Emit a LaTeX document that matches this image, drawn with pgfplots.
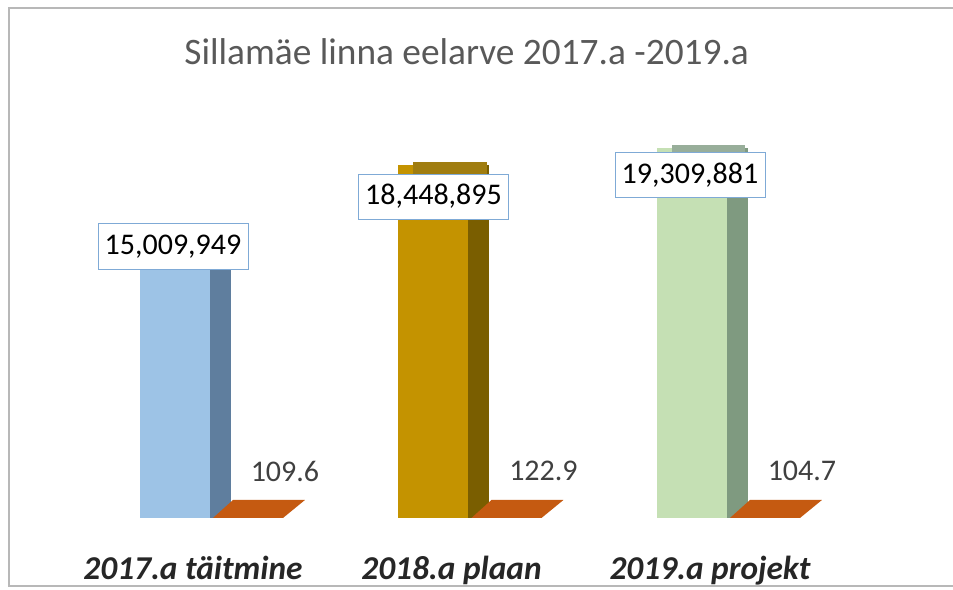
\documentclass[border=0pt]{standalone}
\usepackage{pgfplots}
\pgfplotsset{compat=1.18}
\usepackage{fontspec}
\setmainfont{Carlito}

\definecolor{bluefront}{HTML}{9DC3E6}
\definecolor{blueside}{HTML}{5F7E9E}
\definecolor{goldfront}{HTML}{C49300}
\definecolor{goldside}{HTML}{7A5E00}
\definecolor{goldcap}{HTML}{A07D10}
\definecolor{greenfront}{HTML}{C5E0B4}
\definecolor{greenside}{HTML}{7F9A80}
\definecolor{greencap}{HTML}{98AE9A}
\definecolor{orangebar}{HTML}{C55A11}
\definecolor{boxline}{HTML}{7FAAD6}
\definecolor{titlegray}{HTML}{595959}

\pgfdeclareplotmark{floor}{%
  \pgfsetcornersarced{\pgfpoint{2.5pt}{2.5pt}}%
  \pgfpathmoveto{\pgfpoint{28.5pt}{0pt}}%
  \pgfpathlineto{\pgfpoint{81pt}{0pt}}%
  \pgfpathlineto{\pgfpoint{97.5pt}{13.5pt}}%
  \pgfpathlineto{\pgfpoint{43.5pt}{13.5pt}}%
  \pgfpathclose
  \pgfusepathqfill}

\pgfdeclareplotmark{cap}{%
  \pgfsetcornersarced{\pgfpoint{3pt}{3pt}}%
  \pgfpathmoveto{\pgfpoint{-15pt}{-12pt}}%
  \pgfpathlineto{\pgfpoint{40pt}{-12pt}}%
  \pgfpathlineto{\pgfpoint{40pt}{2.25pt}}%
  \pgfpathlineto{\pgfpoint{-15pt}{2.25pt}}%
  \pgfpathclose
  \pgfusepathqfill}

\begin{document}
\begin{tikzpicture}[font=\fontsize{22.5}{27}\selectfont]
\useasboundingbox (0,0) rectangle (714.75pt,441.75pt);
\fill[white] (0,0) rectangle (714.75pt,441.75pt);
\draw[line width=1.5pt, color=black!28] (714.75pt,435.75pt) -- (6.75pt,435.75pt) -- (6.75pt,2.25pt) -- (714.75pt,2.25pt);
\node[font=\fontsize{28}{34}\selectfont, text=titlegray] at (350pt,403pt) {Sillamäe linna eelarve 2017.a -2019.a};
\begin{axis}[
  at={(14.9pt,53.25pt)}, anchor=south west,
  scale only axis, width=620.4pt, height=359.25pt,
  xmin=-0.6, xmax=2.6, ymin=0, ymax=25000000,
  axis y line=none, axis x line*=bottom,
  x axis line style={draw=none}, xtick style={draw=none},
  major tick length=0pt,
  xtick={0,1,2},
  xticklabels={2017.a täitmine, 2018.a plaan, 2019.a projekt},
  xticklabel style={font=\fontsize{25}{30}\selectfont\bfseries\itshape, text=black!85, xshift=13.5pt, yshift=-25pt},
  clip=false,
  every node near coord/.append style={font=\fontsize{22.5}{27}\selectfont},
]
% 2017
\addplot[ybar, bar width=15.75pt, bar shift=34.1pt, fill=blueside, draw=none] coordinates {(0,15009949)};
\addplot[ybar, bar width=52.5pt, bar shift=0pt, fill=bluefront, draw=none] coordinates {(0,15009949)};
% 2018
\addplot[ybar, bar width=15.75pt, bar shift=34.1pt, fill=goldside, draw=none] coordinates {(1,18448895)};
\addplot[ybar, bar width=52.5pt, bar shift=0pt, fill=goldfront, draw=none] coordinates {(1,18448895)};
\addplot[only marks, mark=cap, mark options={fill=goldcap}] coordinates {(1,18448895)};
% 2019
\addplot[ybar, bar width=15.75pt, bar shift=34.1pt, fill=greenside, draw=none] coordinates {(2,19309881)};
\addplot[ybar, bar width=52.5pt, bar shift=0pt, fill=greenfront, draw=none] coordinates {(2,19309881)};
\addplot[only marks, mark=cap, mark options={fill=greencap}] coordinates {(2,19309881)};
% floor series (percent)
\addplot[only marks, mark=floor, mark options={fill=orangebar},
  nodes near coords, point meta=explicit symbolic,
  every node near coord/.append style={anchor=center, xshift=82.5pt, yshift=35pt, text=black!75}]
  coordinates {(0,109.6) [109.6] (1,122.9) [122.9] (2,104.7) [104.7]};
% value labels
\addplot[draw=none, mark=none, nodes near coords={15,009,949},
  every node near coord/.append style={anchor=center, draw=boxline, fill=white, text=black, inner xsep=5pt, minimum height=34pt, xshift=-1.5pt, yshift=-12pt}]
  coordinates {(0,15009949)};
\addplot[draw=none, mark=none, nodes near coords={18,448,895},
  every node near coord/.append style={anchor=center, draw=boxline, fill=white, text=black, inner xsep=5pt, minimum height=34pt, xshift=0pt, yshift=-24pt}]
  coordinates {(1,18448895)};
\addplot[draw=none, mark=none, nodes near coords={19,309,881},
  every node near coord/.append style={anchor=center, draw=boxline, fill=white, text=black, inner xsep=5pt, minimum height=34pt, xshift=-1.5pt, yshift=-20pt}]
  coordinates {(2,19309881)};
\end{axis}
\end{tikzpicture}
\end{document}
